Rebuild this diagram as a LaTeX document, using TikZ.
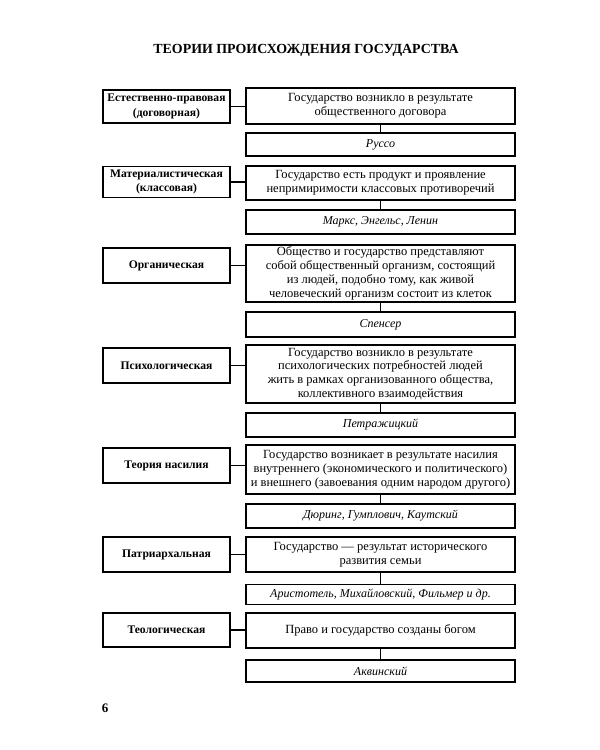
\documentclass[tikz,border=0pt]{standalone}
\usepackage{fontspec}
\setmainfont{Liberation Serif}
\begin{document}
\begin{tikzpicture}[x=1pt,y=-1pt,
  box/.style={draw,line width=1.4pt,rectangle,inner sep=0pt,align=center,font=\fontsize{12.5}{13.8}\selectfont},
  theory/.style={box,line width=1.7pt,minimum width=127pt,font=\fontsize{11.6}{14.2}\selectfont\bfseries},
  idea/.style={box,minimum width=269pt},
  author/.style={box,minimum width=269pt,font=\fontsize{12}{14}\selectfont\itshape},
  link/.style={line width=1.4pt}]
\useasboundingbox (0,0) rectangle (600,750);
\node[font=\fontsize{13.9}{16}\selectfont\bfseries] (title) at (306,50) {ТЕОРИИ ПРОИСХОЖДЕНИЯ ГОСУДАРСТВА};
% 1
\node[theory,minimum height=33pt] (t1) at (166.5,106.5) {Естественно-правовая\\(договорная)};
\node[idea,minimum height=36pt] (i1) at (380.5,106) {Государство возникло в результате\\общественного договора};
\node[author,minimum height=23pt] (a1) at (380.5,144.5) {Руссо};
% 2
\node[theory,minimum height=31pt] (t2) at (166.5,182) {Материалистическая\\(классовая)};
\node[idea,minimum height=34pt] (i2) at (380.5,183) {Государство есть продукт и проявление\\непримиримости классовых противоречий};
\node[author,minimum height=24pt] (a2) at (380.5,222) {Маркс, Энгельс, Ленин};
% 3
\node[theory,minimum height=35pt] (t3) at (166.5,265.5) {Органическая};
\node[idea,minimum height=57pt] (i3) at (380.5,273.5) {Общество и государство представляют\\собой общественный организм, состоящий\\из людей, подобно тому, как живой\\человеческий организм состоит из клеток};
\node[author,minimum height=25pt] (a3) at (380.5,324.5) {Спенсер};
% 4
\node[theory,minimum height=35pt] (t4) at (166.5,365.5) {Психологическая};
\node[idea,minimum height=58pt] (i4) at (380.5,374) {Государство возникло в результате\\психологических потребностей людей\\жить в рамках организованного общества,\\коллективного взаимодействия};
\node[author,minimum height=24pt] (a4) at (380.5,425) {Петражицкий};
% 5
\node[theory,minimum height=35pt] (t5) at (166.5,465.5) {Теория насилия};
\node[idea,minimum height=49pt] (i5) at (380.5,469.5) {Государство возникает в результате насилия\\внутреннего (экономического и политического)\\и внешнего (завоевания одним народом другого)};
\node[author,minimum height=24pt] (a5) at (380.5,516) {Дюринг, Гумплович, Каутский};
% 6
\node[theory,minimum height=35pt] (t6) at (166.5,554.5) {Патриархальная};
\node[idea,minimum height=35pt] (i6) at (380.5,554.5) {Государство — результат исторического\\развития семьи};
\node[author,minimum height=20pt] (a6) at (380.5,594.5) {Аристотель, Михайловский, Фильмер и др.};
% 7
\node[theory,minimum height=34pt] (t7) at (166.5,630) {Теологическая};
\node[idea,minimum height=35pt] (i7) at (380.5,630.5) {Право и государство созданы богом};
\node[author,minimum height=22pt] (a7) at (380.5,671) {Аквинский};
\foreach \k in {1,...,7}{
  \draw[link] (t\k.east) -- (t\k.east -| i\k.west);
  \draw[link] (i\k.south) -- (a\k.north);
}
\node[font=\fontsize{13}{15}\selectfont\bfseries] (page) at (105,708) {6};
\end{tikzpicture}
\end{document}
